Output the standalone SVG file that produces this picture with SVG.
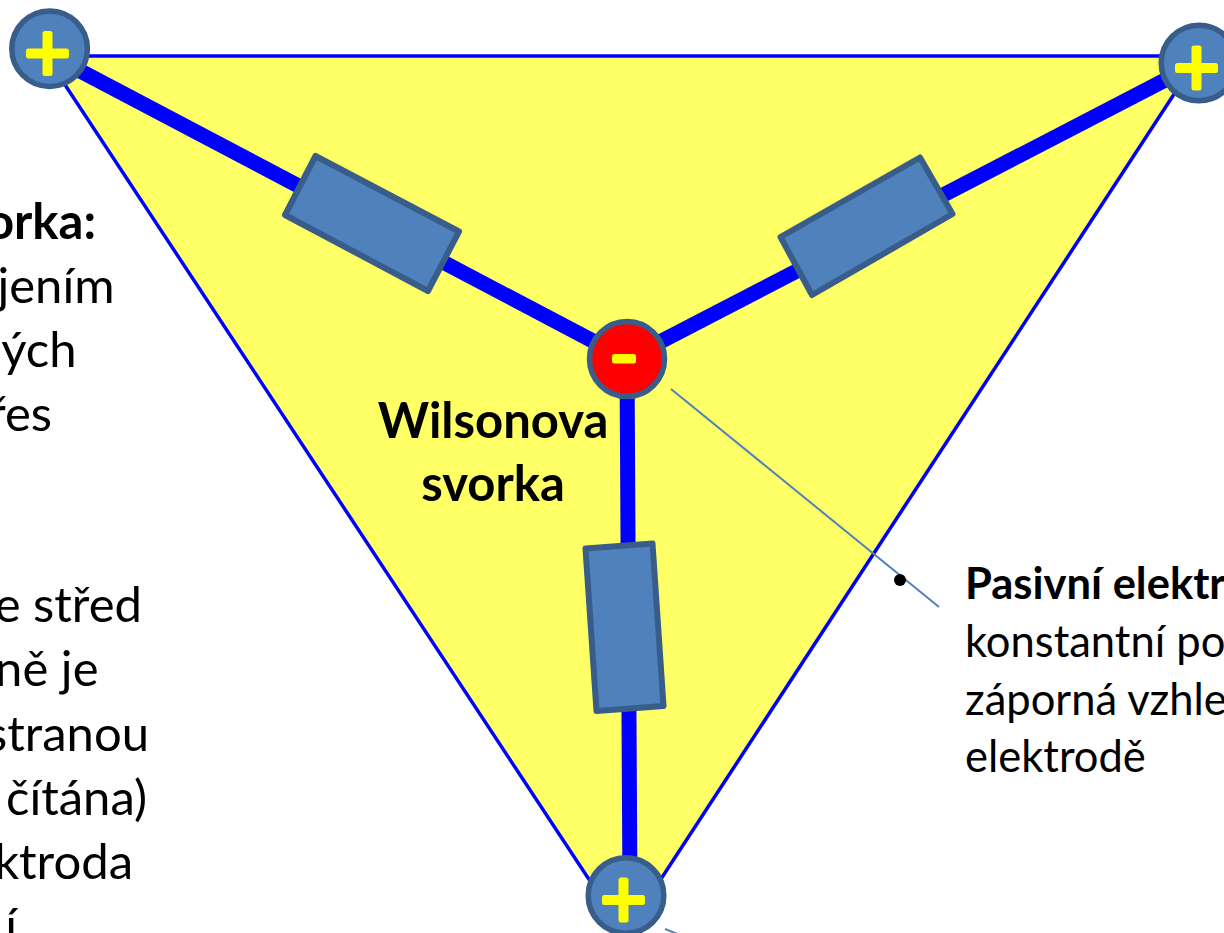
<svg xmlns="http://www.w3.org/2000/svg" width="1224" height="933" viewBox="0 0 1224 933">
<style>
text{font-family:"Lato","Open Sans","Liberation Sans",sans-serif;fill:#000}
.l{font-size:49px;text-anchor:end}
.r{font-size:43.5px}
.b{font-weight:700}
.w{font-size:49px;font-weight:700;text-anchor:middle}
.thick{stroke:#0000ff;stroke-width:15;fill:none}
.res{fill:#4f81bd;stroke:#385d8a;stroke-width:6;stroke-linejoin:round}
.el{fill:#4f81bd;stroke:#385d8a;stroke-width:5.5}
.neg{fill:#ff0000;stroke:#385d8a;stroke-width:5.5}
.sign{fill:#ffff00}
.lead{stroke:#4f81bd;stroke-width:2;fill:none}
</style>
<defs>
<g id="plus"><rect x="-21.5" y="-5" width="43" height="10" rx="2.5" class="sign"/><rect x="-5" y="-22.5" width="10" height="45" rx="2.5" class="sign"/></g>
</defs>
<g id="triangle"><polygon points="46,56 1199,56 625,934" fill="#ffff66" stroke="#0000ff" stroke-width="3.5"/></g>
<g id="connectors">
<line class="thick" x1="50" y1="55" x2="627" y2="359"/>
<line class="thick" x1="1198" y1="63" x2="627" y2="359"/>
<line class="thick" x1="627" y1="359" x2="630" y2="895"/>
<line class="lead" x1="671" y1="389" x2="939" y2="607"/>
<line class="lead" x1="665" y1="929" x2="680" y2="935"/>
</g>
<g id="resistor-left"><polygon class="res" points="315.5,156 459,231.5 428,291 285,215"/></g>
<g id="resistor-right"><polygon class="res" points="920,157.5 952.5,214 812,295 780.5,237"/></g>
<g id="resistor-bottom"><polygon class="res" points="585.5,548.5 652.5,543.5 663.5,706 596.5,711"/></g>
<g id="electrode-top-left"><circle class="el" cx="49.6" cy="48.7" r="37.8"/><use href="#plus" x="47.5" y="53.5"/></g>
<g id="electrode-top-right"><circle class="el" cx="1199" cy="63" r="37.8"/><use href="#plus" x="1196.5" y="68"/></g>
<g id="electrode-bottom"><circle class="el" cx="626" cy="895.5" r="37.8"/><use href="#plus" x="623.5" y="900"/></g>
<g id="wilson-terminal"><circle class="neg" cx="627" cy="359" r="37.5"/><rect x="612" y="354" width="24" height="9.5" rx="2.5" class="sign"/></g>
<g id="wilson-label"><text class="w" x="493" y="437.5">Wilsonova</text><text class="w" x="493" y="500.5">svorka</text></g>
<g id="left-text-1">
<text class="l b" x="96" y="239">orka:</text>
<text class="l" x="114.5" y="303">jením</text>
<text class="l" x="76.5" y="366.5">ých</text>
<text class="l" x="52" y="430.5">řes</text>
</g>
<g id="left-text-2">
<text class="l" x="142" y="621.5">e střed</text>
<text class="l" x="98.5" y="685.5">ně je</text>
<text class="l" x="149" y="750.5">stranou</text>
<text class="l" x="147" y="814.5">čítána)</text>
<text class="l" x="133" y="878.5">ktroda</text>
<text class="l" x="17" y="942.5">í</text>
</g>
<g id="passive-text">
<circle cx="900" cy="580" r="6" fill="#000"/>
<text class="r b" x="965" y="599">Pasivní elektr</text>
<text class="r" x="965" y="656.5">konstantní po</text>
<text class="r" x="965" y="714.5">záporná vzhle</text>
<text class="r" x="965" y="771.5">elektrodě</text>
</g>
</svg>
